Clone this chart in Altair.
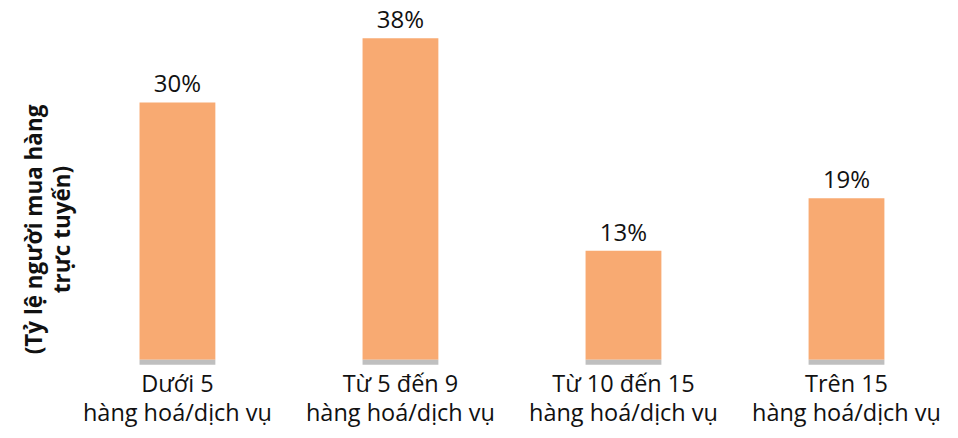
import altair as alt
import pandas as pd

categories = ["Dưới 5|hàng hoá/dịch vụ", "Từ 5 đến 9|hàng hoá/dịch vụ",
              "Từ 10 đến 15|hàng hoá/dịch vụ", "Trên 15|hàng hoá/dịch vụ"]
values = [30.4, 38.0, 12.9, 19.1]
y_title = ["(Tỷ lệ người mua hàng", "trực tuyến)"]

df = pd.DataFrame({"cat": categories, "val": values})

FONT = "Open Sans"
ORANGE = "#F8AA72"
GRAY = "#BFBFBF"
INK = "#111111"

x = alt.X("cat:N", sort=categories,
          scale=alt.Scale(paddingInner=0.66, paddingOuter=0.33),
          axis=alt.Axis(title=None, labelAngle=0, domain=False, ticks=False,
                        labelExpr="split(datum.label, '|')", labelLimit=400,
                        labelFont=FONT, labelFontSize=23.5, labelColor=INK,
                        labelLineHeight=29, labelPadding=13))
y = alt.Y("val:Q", scale=alt.Scale(domain=[0, 40], nice=False, zero=True),
          axis=alt.Axis(title=y_title, labels=False, ticks=False, domain=False,
                        grid=False, titleFont=FONT, titleFontSize=22.5,
                        titleFontWeight="bold", titleColor=INK,
                        titleAngle=-90, titleX=-31, titleY=208,
                        titleAlign="center", titleBaseline="middle",
                        titleLineHeight=28))

base = alt.Chart(df)
bars = base.mark_bar(color=ORANGE).encode(x=x, y=y)
strip = base.mark_bar(color=GRAY, y2Offset=5).encode(
    x=alt.X("cat:N", sort=categories), y=alt.datum(0), y2=alt.datum(0))
labels = base.transform_calculate(
    lab="format(datum.val, '.0f') + '%'"
).mark_text(baseline="alphabetic", dy=-10, font=FONT, fontSize=24, color=INK).encode(
    x=alt.X("cat:N", sort=categories), y="val:Q", text="lab:N")

chart = alt.layer(bars, strip, labels).properties(
    width=893, height=339,
    padding={"left": 66, "top": 21, "right": 0, "bottom": 78},
    autosize=alt.AutoSizeParams(type="none"),
).configure_view(stroke=None)

chart.save("out.html", embed_options={"renderer": "svg", "actions": False})
